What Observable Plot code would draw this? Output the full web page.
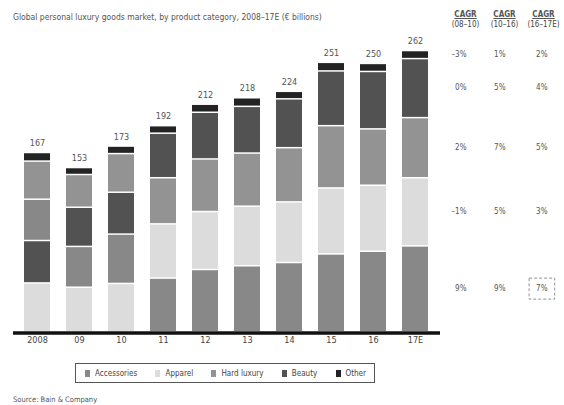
<!DOCTYPE html>
<html>
<head>
<meta charset="utf-8">
<script src="https://cdn.jsdelivr.net/npm/d3@7"></script>
<script src="https://cdn.jsdelivr.net/npm/@observablehq/plot@0.6"></script>
<style>
  body { margin: 0; background: #fff; }
  #wrap { position: relative; width: 564px; height: 405px; overflow: hidden;
          font-family: "Liberation Sans Narrow", "DejaVu Sans Condensed", "Roboto", sans-serif; color: #555; }
  #chart { position: absolute; left: 0; top: 0; }
  #title { position: absolute; left: 13px; top: 12px; font-size: 8.5px; color: #555; white-space: nowrap; }
  #cagrHead { position: absolute; left: 446px; top: 10px; width: 118px; display: flex; }
  #cagrHead div { width: 39px; text-align: center; font-size: 8px; line-height: 10px; color: #444; }
  #cagrHead span { text-decoration: underline; font-weight: bold; color: #555; }
  #legend { position: absolute; left: 75px; top: 363px; width: 300px; height: 20px; border: 1px solid #555;
            display: flex; align-items: center; justify-content: space-between; box-sizing: border-box; padding: 0 8px 0 9px; }
  .item { display: flex; align-items: center; font-size: 8px; color: #444; white-space: nowrap; }
  .sw { width: 5px; height: 7px; margin-right: 5px; }
  #source { position: absolute; left: 13px; top: 395px; font-size: 7.5px; color: #555; white-space: nowrap; }
</style>
</head>
<body>
<div id="wrap">
  <div id="chart"></div>
  <div id="title"></div>
  <div id="cagrHead"></div>
  <div id="legend"></div>
  <div id="source"></div>
</div>
<script>
// ---- data ----
const titleText = "Global personal luxury goods market, by product category, 2008–17E (€ billions)";
const sourceText = "Source: Bain & Company";
const years = ["2008", "09", "10", "11", "12", "13", "14", "15", "16", "17E"];
const totals = [167, 153, 173, 192, 212, 218, 224, 251, 250, 262];
const categories = ["Accessories", "Apparel", "Hard luxury", "Beauty", "Other"];
const colors = ["#888888", "#dcdcdc", "#939393", "#525252", "#232323"];
const accessories = [38.5, 38, 46, 50, 58, 61.5, 64.5, 72.5, 75, 80];
const apparel     = [45.5, 41.5, 45, 50.5, 54, 55.5, 56.5, 61.5, 61.5, 63.5];
const hardLuxury  = [35.5, 30.5, 36, 43, 49, 49.5, 50.5, 58, 52.5, 56];
const beauty      = [39.5, 36.5, 39, 41.5, 43.5, 43.5, 45.5, 51, 53.5, 55];
const other       = [8, 6.5, 7, 7, 7.5, 8, 7, 8, 7.5, 7.5];
// segment order (bottom to top) as drawn in the original, per year
const order2008 = ["Apparel", "Beauty", "Accessories", "Hard luxury", "Other"];
const order0910 = ["Apparel", "Accessories", "Beauty", "Hard luxury", "Other"];
const stackOrders = [order2008, order0910, order0910, categories, categories, categories, categories, categories, categories, categories];
const cagrHeaders = ["(08–10)", "(10–16)", "(16–17E)"];
const cagr0810 = ["9%", "–1%", "2%", "0%", "–3%"];
const cagr1016 = ["9%", "5%", "7%", "5%", "1%"];
const cagr1617 = ["7%", "3%", "5%", "4%", "2%"];
const cagrHighlight = [true, false, false, false, false]; // dashed box, 16–17E column

// ---- build ----
const seriesByCat = {"Accessories": accessories, "Apparel": apparel, "Hard luxury": hardLuxury, "Beauty": beauty, "Other": other};
const rows = [];
years.forEach((yr, i) => stackOrders[i].forEach(cat => rows.push({year: yr, category: cat, value: seriesByCat[cat][i]})));
const totalRows = years.map((yr, i) => ({year: yr, total: totals[i]}));

// CAGR rows placed at the midpoints of the last bar's segments
const last = years.length - 1;
let cum = 0;
const cagrRows = categories.map((cat, k) => {
  const v = seriesByCat[cat][last];
  const mid = cum + v / 2;
  cum += v;
  return {category: cat, mid, c1: cagr0810[k], c2: cagr1016[k], c3: cagr1617[k], hl: cagrHighlight[k]};
});

const font = '"Liberation Sans Narrow", "DejaVu Sans Condensed", "Roboto", sans-serif';
const chart = Plot.plot({
  width: 564,
  height: 350,
  marginLeft: 13,
  marginRight: 124,
  marginTop: 9,
  marginBottom: 19,
  style: {fontFamily: font, fontSize: "9px", color: "#444", background: "transparent"},
  x: {domain: years, paddingInner: 0.37, paddingOuter: 0.185, label: null, tickSize: 0, tickPadding: 5},
  y: {domain: [0, 300], axis: null},
  color: {domain: categories, range: colors},
  marks: [
    Plot.barY(rows, {x: "year", y: "value", fill: "category", insetTop: 1.5}),
    Plot.ruleY([0], {stroke: "#111", strokeWidth: 3.5, dy: 1.5}),
    Plot.text(totalRows, {x: "year", y: "total", text: d => String(d.total), dy: -9, fill: "#555", fontSize: 9}),
    Plot.text(cagrRows, {y: "mid", text: "c1", frameAnchor: "right", dx: 26, fill: "#555", fontSize: 8}),
    Plot.text(cagrRows, {y: "mid", text: "c2", frameAnchor: "right", dx: 65, fill: "#555", fontSize: 8}),
    Plot.text(cagrRows, {y: "mid", text: "c3", frameAnchor: "right", dx: 107, fill: "#555", fontSize: 8, className: "cagr3"})
  ]
});
document.getElementById("chart").appendChild(chart);

// dashed box around the highlighted CAGR value
d3.select(chart).selectAll(".cagr3 text").each(function (_, i) {
  if (!cagrRows[i] || !cagrRows[i].hl) return;
  const b = this.getBBox();
  const r = d3.select(this.parentNode).append("rect")
    .attr("x", b.x - 7).attr("y", b.y - 6)
    .attr("width", b.width + 14).attr("height", b.height + 12)
    .attr("fill", "none").attr("stroke", "#777").attr("stroke-width", 0.8)
    .attr("stroke-dasharray", "3,2");
  const t = this.getAttribute("transform");
  if (t) r.attr("transform", t);
});

document.getElementById("title").textContent = titleText;
document.getElementById("source").textContent = sourceText;
const head = document.getElementById("cagrHead");
cagrHeaders.forEach(h => {
  const d = document.createElement("div");
  d.innerHTML = "<span>CAGR</span><br>" + h;
  head.appendChild(d);
});
const legend = document.getElementById("legend");
categories.forEach((c, k) => {
  const it = document.createElement("div");
  it.className = "item";
  it.innerHTML = `<div class="sw" style="background:${colors[k]}"></div>${c}`;
  legend.appendChild(it);
});
</script>
</body>
</html>
